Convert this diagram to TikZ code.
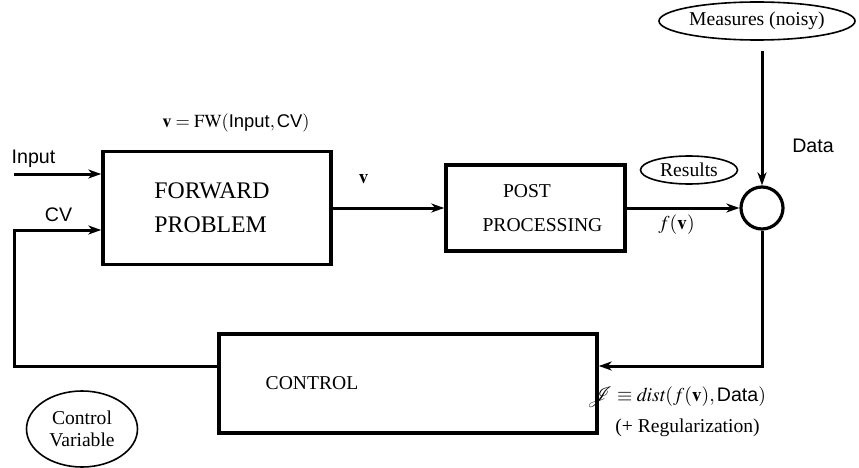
\documentclass[tikz,border=0pt]{standalone}
\usepackage{mathptmx}
\usepackage{mathrsfs}
\usepackage{fontspec}
\setmainfont{Liberation Serif}
\setsansfont{Liberation Sans}
\usetikzlibrary{arrows.meta,shapes.geometric}
\tikzset{
  blockbox/.style={draw, line width=3.5pt, inner sep=0pt},
  bubble/.style={draw, ellipse, line width=1.6pt, inner sep=0pt},
  wire/.style={line width=3pt},
  arrowwire/.style={line width=3pt, -{Stealth[length=13pt,width=9pt,inset=4pt]}},
  lbl/.style={anchor=base, inner sep=0pt}
}
\begin{document}
\begin{tikzpicture}[x=1pt,y=-1pt,font=\fontsize{19.6}{24}\selectfont]
\useasboundingbox (0,0) rectangle (859,468);
% blocks
\node[blockbox, minimum width=228pt, minimum height=113pt, align=left,
      font=\fontsize{23.8}{34}\selectfont] (fw) at (217,208) {FORWARD\hspace*{10pt}\\PROBLEM};
\node[blockbox, minimum width=179pt, minimum height=86pt, align=center,
      font=\fontsize{19.6}{34}\selectfont] (post) at (535.5,208)
      {\hspace*{14pt}POST\hspace*{31pt}\\\hspace*{14pt}PROCESSING};
\node[blockbox, minimum width=378pt, minimum height=99pt, align=center] (ctrl) at (408,383.5)
      {CONTROL\hspace*{192pt}};
\node[draw, circle, line width=3.2pt, minimum size=42pt, inner sep=0pt] (sum) at (762,208) {};
% bubbles
\node[bubble, minimum width=196pt, minimum height=38pt] (meas) at (757,21) {Measures (noisy)};
\node[bubble, minimum width=97pt, minimum height=28pt] (res) at (689,170) {Results};
\node[bubble, minimum width=111pt, minimum height=76pt, align=center,
      font=\fontsize{19.6}{22}\selectfont] (cvar) at (82,429) {Control\\Variable};
% coordinates
\coordinate (inL) at (14,174);
\coordinate (cvL) at (14,230);
\coordinate (fbL) at (14,366);
\coordinate (fbR) at (762,366);
% connectors
\draw[arrowwire] (inL) -- (inL -| fw.west);
\draw[arrowwire] (ctrl.west |- fbL) -- (fbL) -- (cvL) -- (cvL -| fw.west);
\draw[arrowwire] (fw.east |- post.west) -- (post.west);
\draw[arrowwire] (post.east) -- (sum.west);
\draw[arrowwire, shorten <=10pt] (sum.north |- meas.south) -- (sum.north);
\draw[arrowwire] (sum.south) -- (fbR) -- (fbR -| ctrl.east);
% labels
\node[lbl, font=\sffamily\fontsize{19.6}{24}\selectfont] (linput) at (33.5,164) {Input};
\node[lbl, font=\sffamily\fontsize{19.6}{24}\selectfont] (lcv) at (58.5,221) {CV};
\node[lbl, font=\sffamily\fontsize{19.6}{24}\selectfont] (ldata) at (813,153) {Data};
\node[lbl, font=\fontsize{18.4}{22}\selectfont] (lfw) at (236,128) {$\mathbf{v}=\mathrm{FW}(\textsf{Input},\textsf{CV})$};
\node[lbl] (lv) at (363.5,183) {$\mathbf{v}$};
\node[lbl] (lf) at (676.5,229) {$f(\mathbf{v})$};
\node[lbl] (lj) at (676.5,401) {$\mathscr{J}\equiv \mathit{dist}(f(\mathbf{v}),\textsf{Data})$};
\node[lbl] (lreg) at (687.5,432) {(+ Regularization)};
\end{tikzpicture}
\end{document}
